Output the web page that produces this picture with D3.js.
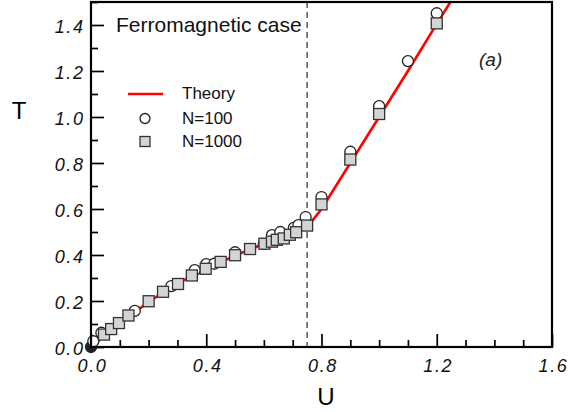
<!DOCTYPE html>
<html>
<head>
<meta charset="utf-8">
<script src="https://cdn.jsdelivr.net/npm/d3@7"></script>
<style>
  html, body { margin: 0; padding: 0; background: #fff; }
  svg { display: block; }
</style>
</head>
<body>
<svg id="chart" width="568" height="412"></svg>
<script>
// ---- data ----
const theoryU = [0, 0.05, 0.1, 0.15, 0.2, 0.25, 0.3, 0.35, 0.4, 0.45, 0.5, 0.55, 0.6, 0.65, 0.7, 0.75, 0.8, 0.9, 1.0, 1.1, 1.2, 1.27];
const theoryT = [0, 0.052, 0.102, 0.15, 0.195, 0.237, 0.274, 0.309, 0.34, 0.369, 0.397, 0.424, 0.448, 0.472, 0.496, 0.52, 0.60, 0.80, 1.0, 1.2, 1.405, 1.545];

const n100U = [0.0, 0.008, 0.036, 0.152, 0.279, 0.36, 0.40, 0.428, 0.5, 0.6, 0.628, 0.657, 0.704, 0.72, 0.745, 0.8, 0.9, 1.0, 1.1, 1.2];
const n100T = [0.0, 0.025, 0.062, 0.157, 0.265, 0.334, 0.36, 0.362, 0.412, 0.448, 0.486, 0.5, 0.518, 0.53, 0.565, 0.652, 0.849, 1.047, 1.243, 1.451];

const n1000U = [0.045, 0.07, 0.097, 0.13, 0.2, 0.25, 0.302, 0.35, 0.398, 0.45, 0.5, 0.552, 0.602, 0.628, 0.645, 0.669, 0.69, 0.712, 0.75, 0.8, 0.9, 1.0, 1.2];
const n1000T = [0.054, 0.078, 0.104, 0.137, 0.199, 0.24, 0.274, 0.311, 0.34, 0.37, 0.399, 0.426, 0.449, 0.458, 0.466, 0.472, 0.488, 0.499, 0.528, 0.62, 0.815, 1.013, 1.407];

const xMajorTicks = [0, 0.4, 0.8, 1.2, 1.6];
const xTickLabels = ["0.0", "0.4", "0.8", "1.2", "1.6"];
const yMajorTicks = [0, 0.2, 0.4, 0.6, 0.8, 1.0, 1.2, 1.4];
const yTickLabels = ["0.0", "0.2", "0.4", "0.6", "0.8", "1.0", "1.2", "1.4"];
const criticalU = 0.75;
const legendLabels = ["Theory", "N=100", "N=1000"];

// ---- layout ----
const svg = d3.select("#chart");
const L = 91, R = 552, T = 2, B = 347;
const x = d3.scaleLinear().domain([0, 1.6]).range([L, R]);
const y = d3.scaleLinear().domain([0, 1.5]).range([B, T]);

const tickFont = "'Liberation Sans', Arial, Helvetica, sans-serif";

svg.append("defs").append("clipPath").attr("id", "clip")
  .append("rect").attr("x", L).attr("y", T).attr("width", R - L).attr("height", B - T);

// minor ticks
const xMinor = d3.range(0, 1.601, 0.1).filter(v => Math.abs(v / 0.4 - Math.round(v / 0.4)) > 1e-6);
const yMinor = d3.range(0, 1.501, 0.1).filter(v => Math.abs(v / 0.2 - Math.round(v / 0.2)) > 1e-6);

const gx = svg.append("g").attr("transform", `translate(0,${B})`)
  .call(d3.axisBottom(x).tickValues(xMajorTicks).tickSizeInner(-13).tickSizeOuter(0).tickPadding(12)
    .tickFormat((d, i) => xTickLabels[i]));
const gxm = svg.append("g").attr("transform", `translate(0,${B})`)
  .call(d3.axisBottom(x).tickValues(xMinor).tickSizeInner(-7).tickSizeOuter(0).tickFormat(""));
const gy = svg.append("g").attr("transform", `translate(${L},0)`)
  .call(d3.axisLeft(y).tickValues(yMajorTicks).tickSizeInner(-13).tickSizeOuter(0).tickPadding(8)
    .tickFormat((d, i) => yTickLabels[i]));
const gym = svg.append("g").attr("transform", `translate(${L},0)`)
  .call(d3.axisLeft(y).tickValues(yMinor).tickSizeInner(-7).tickSizeOuter(0).tickFormat(""));

[gx, gxm, gy, gym].forEach(g => {
  g.select(".domain").remove();
  g.selectAll(".tick line").attr("stroke", "#000").attr("stroke-width", 1.7);
  g.selectAll(".tick text")
    .attr("font-family", tickFont).attr("font-style", "italic")
    .attr("font-size", 18).attr("fill", "#111")
    .style("letter-spacing", "1.6px");
});
gx.selectAll(".tick text").attr("dx", "1px");
gy.selectAll(".tick text").attr("dx", "1.5px").attr("dy", "0.4em");

// vertical dashed line
svg.append("line")
  .attr("x1", x(criticalU)).attr("x2", x(criticalU))
  .attr("y1", y(1.5)).attr("y2", y(0))
  .attr("stroke", "#555").attr("stroke-width", 1.5).attr("stroke-dasharray", "6,4");

// plot
const plot = svg.append("g").attr("clip-path", "url(#clip)");
const theory = theoryU.map((u, i) => [u, theoryT[i]]);
plot.append("path").datum(theory)
  .attr("d", d3.line().x(d => x(d[0])).y(d => y(d[1])))
  .attr("fill", "none").attr("stroke", "#ff0000").attr("stroke-width", 2.6);

const pts100 = n100U.map((u, i) => [u, n100T[i]]);
const pts1000 = n1000U.map((u, i) => [u, n1000T[i]]);
const markerG = svg.append("g");
markerG.selectAll("circle.n100").data(pts100).join("circle")
  .attr("class", "n100")
  .attr("cx", d => x(d[0])).attr("cy", d => y(d[1])).attr("r", 5.5)
  .attr("fill", (d, i) => i === 0 ? "#222" : "#fff")
  .attr("stroke", "#222").attr("stroke-width", 1.3);
const s = 11;
markerG.selectAll("rect.n1000").data(pts1000).join("rect")
  .attr("class", "n1000")
  .attr("x", d => x(d[0]) - s / 2).attr("y", d => y(d[1]) - s / 2)
  .attr("width", s).attr("height", s)
  .attr("fill", "#d4d4d4").attr("stroke", "#333").attr("stroke-width", 1.3);

// frame
svg.append("rect").attr("x", L).attr("y", T).attr("width", R - L).attr("height", B - T)
  .attr("fill", "none").attr("stroke", "#000").attr("stroke-width", 2.2);

// texts
svg.append("text").attr("x", 116).attr("y", 32)
  .attr("font-family", tickFont).attr("font-size", 21).attr("fill", "#111")
  .text("Ferromagnetic case");
svg.append("text").attr("x", 479).attr("y", 66)
  .attr("font-family", tickFont).attr("font-style", "italic").attr("font-size", 19).attr("fill", "#222")
  .text("(a)");
svg.append("text").attr("x", 19).attr("y", 119).attr("text-anchor", "middle")
  .attr("font-family", tickFont).attr("font-size", 24).attr("fill", "#000")
  .text("T");
svg.append("text").attr("x", 326).attr("y", 405).attr("text-anchor", "middle")
  .attr("font-family", tickFont).attr("font-size", 24).attr("fill", "#000")
  .text("U");

// legend
const lg = svg.append("g");
lg.append("line").attr("x1", 128).attr("x2", 163).attr("y1", 94).attr("y2", 94)
  .attr("stroke", "#ff0000").attr("stroke-width", 2.6);
lg.append("circle").attr("cx", 145).attr("cy", 118.5).attr("r", 5)
  .attr("fill", "#fff").attr("stroke", "#222").attr("stroke-width", 1.3);
lg.append("rect").attr("x", 140).attr("y", 136.5).attr("width", 10).attr("height", 10)
  .attr("fill", "#d4d4d4").attr("stroke", "#333").attr("stroke-width", 1.3);
[99, 123.5, 147].forEach((yy, i) => {
  lg.append("text").attr("x", 182).attr("y", yy)
    .attr("font-family", tickFont).attr("font-size", 17).attr("fill", "#111")
    .text(legendLabels[i]);
});
</script>
</body>
</html>
